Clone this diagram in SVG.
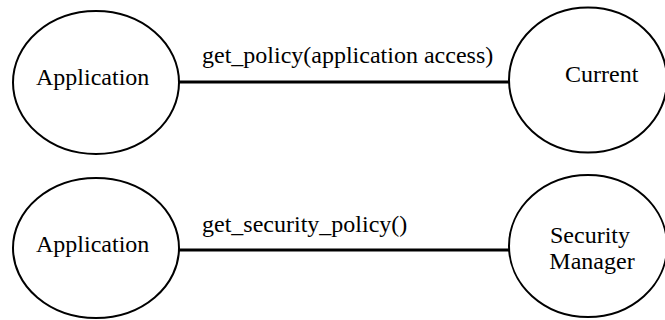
<svg xmlns="http://www.w3.org/2000/svg" width="665" height="320" viewBox="0 0 665 320">
<style>
.n{fill:#fff;stroke:#000;stroke-width:2}
.t{font-family:"Liberation Serif","Times New Roman",serif;font-size:24px;fill:#000}
.c{stroke:#000;stroke-width:3;fill:none}
</style>
<rect width="665" height="320" fill="#fff"/>
<g id="connectors">
<line class="c" x1="178" y1="82" x2="510" y2="82"/>
<text class="t" x="202" y="63">get_policy(application access)</text>
<line class="c" x1="178" y1="250" x2="510" y2="250"/>
<text class="t" x="202" y="232">get_security_policy()</text>
</g>
<g id="app1">
<ellipse class="n" cx="96" cy="82.5" rx="83" ry="71.5"/>
<text class="t" x="36" y="85">Application</text>
</g>
<g id="current">
<ellipse class="n" cx="588" cy="80" rx="79" ry="72.5"/>
<text class="t" x="565" y="82">Current</text>
</g>
<g id="app2">
<ellipse class="n" cx="96" cy="248" rx="83" ry="70"/>
<text class="t" x="36" y="252">Application</text>
</g>
<g id="secmgr">
<ellipse class="n" cx="588" cy="246" rx="79" ry="71"/>
<text class="t" x="590" y="243" text-anchor="middle">Security</text>
<text class="t" x="592" y="269" text-anchor="middle">Manager</text>
</g>
</svg>
